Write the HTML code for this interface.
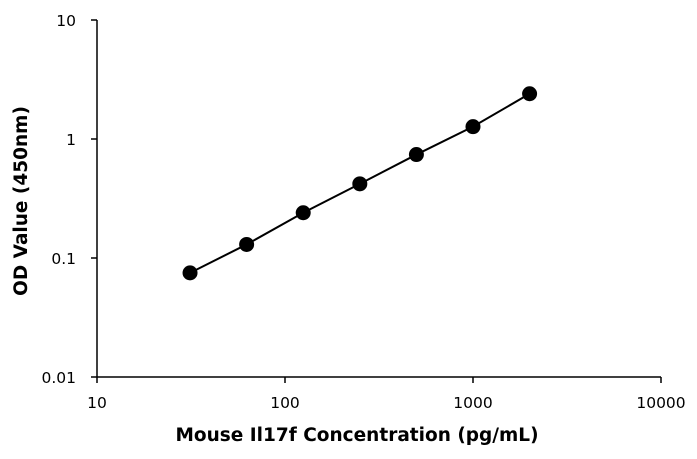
<!DOCTYPE html>
<html><head><meta charset="utf-8"><style>
html,body{margin:0;padding:0;background:#fff;}
svg text{font-family:"DejaVu Sans","Liberation Sans",sans-serif;fill:#000;}
</style></head><body>
<svg width="697" height="454" xmlns="http://www.w3.org/2000/svg">
<g id="axes"></g>
<g id="marks"></g>
<text x="357" y="441" text-anchor="middle" font-size="18.5" font-weight="bold">Mouse Il17f Concentration (pg/mL)</text>
<text transform="translate(27,201) rotate(-90)" text-anchor="middle" font-size="18.5" font-weight="bold">OD Value (450nm)</text>
</svg>
<script>
const concentrations = [31.25, 62.5, 125, 250, 500, 1000, 2000];
const odValues = [0.075, 0.13, 0.24, 0.42, 0.74, 1.27, 2.4];
const xTicks = [10, 100, 1000, 10000];
const xTickLabels = ["10", "100", "1000", "10000"];
const yTicks = [0.01, 0.1, 1, 10];
const yTickLabels = ["0.01", "0.1", "1", "10"];

const NS = "http://www.w3.org/2000/svg";
const X0 = 97, X1 = 661, Y0 = 377, Y1 = 20;
function xs(v){ return X0 + (Math.log10(v) - 1) / 3 * (X1 - X0); }
function ys(v){ return Y0 - (Math.log10(v) + 2) / 3 * (Y0 - Y1); }
function mk(tag, attrs, parent){
  const e = document.createElementNS(NS, tag);
  for (const k in attrs) e.setAttribute(k, attrs[k]);
  parent.appendChild(e); return e;
}
const axes = document.getElementById("axes");
const marks = document.getElementById("marks");

const xa = mk("line", {x1:X0, y1:Y0, x2:X1, y2:Y0, stroke:"#000", "stroke-width":1.5}, axes);


const ya = mk("line", {x1:X0, y1:Y0, x2:X0, y2:Y1, stroke:"#000", "stroke-width":1.5}, axes);



xTicks.forEach((t, i) => {
  const x = xs(t);
  mk("line", {x1:x, y1:Y0, x2:x, y2:Y0+6, stroke:"#000", "stroke-width":1.5}, axes);
  const tx = mk("text", {x:x, y:Y0+31, "text-anchor":"middle", "font-size":15.5}, axes);
  tx.textContent = xTickLabels[i];
  
  
});
yTicks.forEach((t, i) => {
  const y = ys(t);
  mk("line", {x1:X0-6, y1:y, x2:X0, y2:y, stroke:"#000", "stroke-width":1.5}, axes);
  const ty = mk("text", {x:X0-21, y:y+6, "text-anchor":"end", "font-size":15.5}, axes);
  ty.textContent = yTickLabels[i];
  
  
});

const pts = concentrations.map((c, i) => xs(c) + "," + ys(odValues[i])).join(" ");
const line = mk("polyline", {points:pts, fill:"none", stroke:"#000", "stroke-width":2}, marks);


concentrations.forEach((c, i) => {
  const p = mk("circle", {cx:xs(c), cy:ys(odValues[i]), r:7.5, fill:"#000"}, marks);
  
  
});
</script>
</body></html>
